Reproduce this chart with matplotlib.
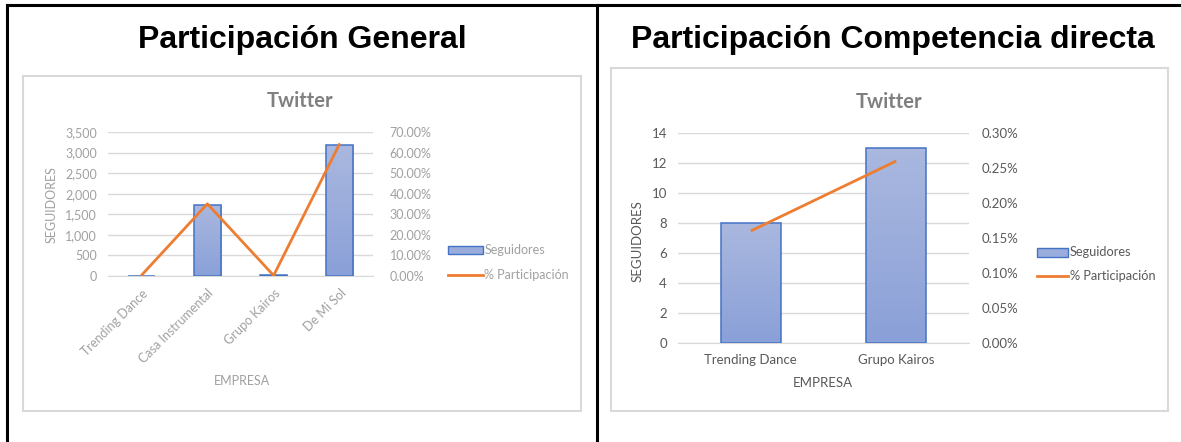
import matplotlib
matplotlib.use("Agg")
import matplotlib.pyplot as plt
import numpy as np
from matplotlib.lines import Line2D
from matplotlib.patches import Patch, Rectangle
from matplotlib.ticker import FuncFormatter, MultipleLocator

W, H = 1181, 442

# General participation (all companies)
gen_empresas = ["Trending Dance", "Casa Instrumental", "Grupo Kairos", "De Mi Sol"]
gen_seguidores = [8, 1730, 13, 3180]
gen_participacion = [0.16, 35.08, 0.26, 64.49]

# Direct competition
comp_empresas = ["Trending Dance", "Grupo Kairos"]
comp_seguidores = [8, 13]
comp_participacion = [0.16, 0.26]

ORANGE = "#ED7D31"
EDGE = "#4472C4"
GRID = "#D9D9D9"


def px_rect(x0, y0, x1, y1):
    return [x0 / W, 1 - y1 / H, (x1 - x0) / W, (y1 - y0) / H]


def gradient_bars(ax, xs, vals, width):
    grad = np.linspace(0, 1, 64).reshape(-1, 1)
    cmap = matplotlib.colors.LinearSegmentedColormap.from_list("bar", ["#8AA0D8", "#AAB8DF"])
    bars = ax.bar(xs, vals, width=width, facecolor="none", edgecolor=EDGE, linewidth=1.1, zorder=3)
    for b in bars:
        x0, w, h = b.get_x(), b.get_width(), b.get_height()
        im = ax.imshow(grad, extent=(x0, x0 + w, 0, h), origin="lower", cmap=cmap,
                       aspect="auto", zorder=2)
        im.set_clip_path(b)
    return bars


def panel(fig, axrect, names, seg, pct, ymax, ystep, pmax, pstep, tcol, fs, rot, rpad):
    ax = fig.add_axes(axrect)
    xs = np.arange(len(names))
    gradient_bars(ax, xs, seg, 0.41)
    ax.set_xlim(-0.5, len(names) - 0.5)
    ax.set_ylim(0, ymax)
    ax.yaxis.set_major_locator(MultipleLocator(ystep))
    ax.yaxis.grid(True, color=GRID, linewidth=1.0, zorder=0)
    ax.set_axisbelow(True)
    for s in ax.spines.values():
        s.set_visible(False)
    ax.spines["bottom"].set_visible(True)
    ax.spines["bottom"].set_color(GRID)
    ax.tick_params(length=0, colors=tcol, labelsize=fs, pad=8)
    ax.set_xticks(xs)
    if rot:
        ax.set_xticklabels(names, rotation=45, ha="right", rotation_mode="anchor")
    else:
        ax.set_xticklabels(names)
    ax.yaxis.set_major_formatter(FuncFormatter(lambda v, p: f"{v:,.0f}"))

    ax2 = ax.twinx()
    ax2.plot(xs, np.array(pct) / 100, color=ORANGE, linewidth=2.0, solid_capstyle="butt")
    ax2.set_ylim(0, pmax)
    ax2.yaxis.set_major_locator(MultipleLocator(pstep))
    ax2.yaxis.set_major_formatter(FuncFormatter(lambda v, p: f"{v * 100:.2f}%"))
    for s in ax2.spines.values():
        s.set_visible(False)
    ax2.tick_params(length=0, colors=tcol, labelsize=fs, pad=rpad)
    return ax, ax2


fig = plt.figure(figsize=(W / 100, H / 100), dpi=100)
plt.rcParams["font.family"] = ["Lato", "DejaVu Sans"]

# table borders
for (x0, y0, x1, y1) in [(7, 5, W, 5), (7, 5, 7, H), (597, 5, 597, H)]:
    fig.add_artist(Line2D([x0 / W, x1 / W], [1 - y0 / H, 1 - y1 / H], color="black",
                          linewidth=2.2, transform=fig.transFigure))

# chart frames
for (x0, y0, x1, y1) in [(23, 76, 581, 411), (611, 68, 1168, 411)]:
    fig.add_artist(Rectangle((x0 / W, 1 - y1 / H), (x1 - x0) / W, (y1 - y0) / H,
                             transform=fig.transFigure, fill=False, edgecolor=GRID, linewidth=1.5))

# headings
fig.text(302 / W, 1 - 40 / H, "Participación General", ha="center", va="center",
         fontsize=23, fontweight="bold", family="Liberation Sans")
fig.text(893 / W, 1 - 40 / H, "Participación Competencia directa", ha="center", va="center",
         fontsize=23, fontweight="bold", family="Liberation Sans")

handles = [Patch(facecolor="#9AACDC", edgecolor=EDGE, linewidth=1.0),
           Line2D([0], [0], color=ORANGE, linewidth=2.0)]
labels = ["Seguidores", "% Participación"]

# left chart (blurry/light)
light = "#A0A0A0"
panel(fig, px_rect(108, 132, 373, 276), gen_empresas, gen_seguidores, gen_participacion,
      3500, 500, 0.7, 0.1, light, 9, True, 12)
fig.text(300 / W, 1 - 101 / H, "Twitter", ha="center", va="center", fontsize=14.5,
         fontweight="bold", color="#808080")
fig.text(242 / W, 1 - 381 / H, "EMPRESA", ha="center", va="center", fontsize=9, color=light)
fig.text(52 / W, 1 - 205 / H, "SEGUIDORES", ha="center", va="center", fontsize=9,
         color=light, rotation=90)
fig.legend(handles, labels, loc="upper left",
           bbox_to_anchor=(437 / W, 1 - 233 / H), frameon=False, fontsize=9,
           labelcolor=light, handlelength=2.8, handletextpad=0.1, labelspacing=1.05)

# right chart
dark = "#595959"
panel(fig, px_rect(678, 133, 969, 343), comp_empresas, comp_seguidores, comp_participacion,
      14, 2, 0.003, 0.0005, dark, 9.5, False, 9)
fig.text(889 / W, 1 - 102 / H, "Twitter", ha="center", va="center", fontsize=14.5,
         fontweight="bold", color="#7F7F7F")
fig.text(823 / W, 1 - 383 / H, "EMPRESA", ha="center", va="center", fontsize=9.5, color=dark)
fig.text(638 / W, 1 - 241 / H, "SEGUIDORES", ha="center", va="center", fontsize=9.5,
         color=dark, rotation=90)
fig.legend(handles, labels, loc="upper left",
           bbox_to_anchor=(1025 / W, 1 - 235 / H), frameon=False, fontsize=9.2,
           labelcolor=dark, handlelength=2.5, handletextpad=0.1, labelspacing=0.9)

fig.savefig("out.png", dpi=100, facecolor="white")
